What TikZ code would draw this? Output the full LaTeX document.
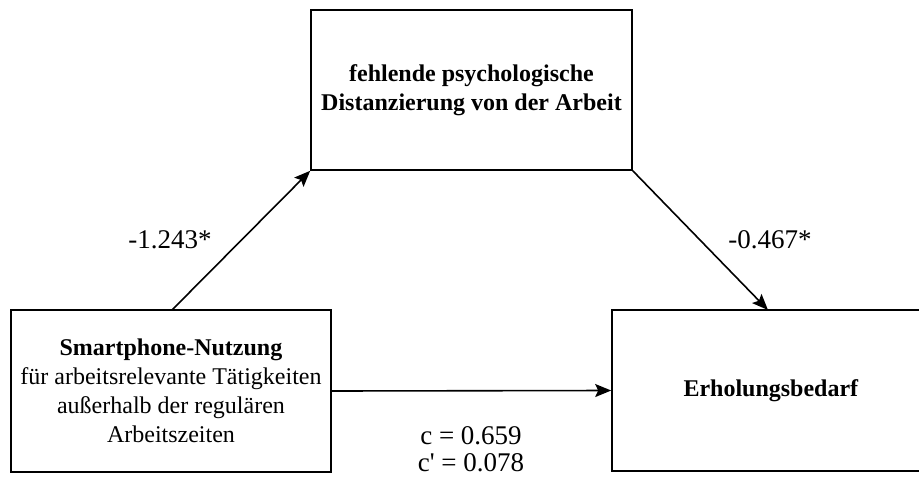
\documentclass[tikz,border=0pt]{standalone}
\usepackage{fontspec}
\setmainfont{Liberation Serif}
\usetikzlibrary{arrows.meta}
\begin{document}
\begin{tikzpicture}[x=1pt,y=-1pt,
  box/.style={draw,line width=1.6pt,fill=white},
  boxtext/.style={align=center,font=\fontsize{24}{29}\selectfont},
  coef/.style={font=\fontsize{27}{32}\selectfont},
  path/.style={line width=1.6pt,-{Stealth[length=16pt,width=13pt,inset=3pt]}}]
\useasboundingbox (0,0) rectangle (919,477);
\clip (0,0) rectangle (919,477);
% variable boxes
\node[box,minimum width=320pt,minimum height=162pt] (x) at (171,391) {};
\node[box,minimum width=321pt,minimum height=160pt] (m) at (471.5,90) {};
\node[box,minimum width=318pt,minimum height=161pt] (y) at (771,390.5) {};
\node[boxtext] at (x.center) {\textbf{Smartphone-Nutzung}\\für arbeitsrelevante Tätigkeiten\\außerhalb der regulären\\Arbeitszeiten};
\node[boxtext] at (m.center) {\textbf{fehlende psychologische}\\\textbf{Distanzierung von der Arbeit}};
\node[boxtext] at (y.center) {\textbf{Erholungsbedarf}};
% connection points on the box borders
\coordinate (xa) at (172,310);
\coordinate (yb) at (768,310);
% paths
\draw[path] (xa) -- (m.south west);
\draw[path] (m.south east) -- (yb);
\draw[path] (x.east) -- (y.west);
% coefficients
\node[coef] (a) at (170,240) {-1.243*};
\node[coef] (b) at (770,240) {-0.467*};
\node[coef,align=center,font=\fontsize{27}{27}\selectfont] (c) at (471,449) {c = 0.659\\c\textquotesingle{} = 0.078};
\end{tikzpicture}
\end{document}
